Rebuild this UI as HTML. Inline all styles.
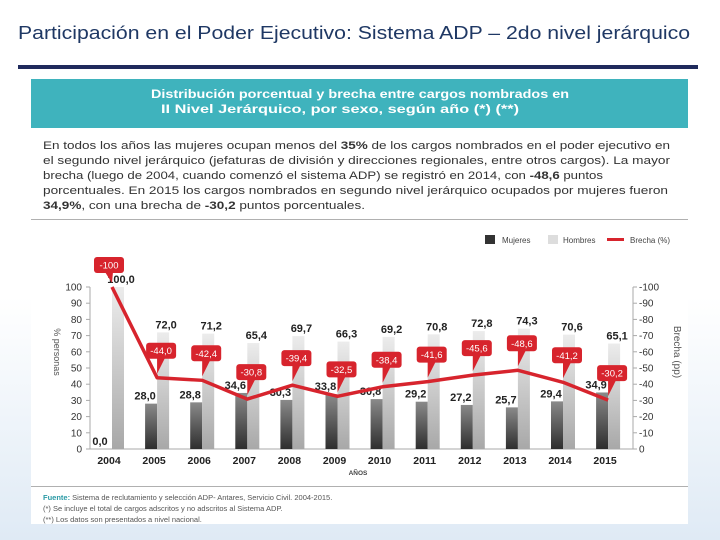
<!DOCTYPE html>
<html><head><meta charset="utf-8"><style>
html,body{margin:0;padding:0;width:720px;height:540px;overflow:hidden;font-family:"Liberation Sans",sans-serif;}
body{background:linear-gradient(180deg,#ffffff 0%,#ffffff 55%,#dfeaf5 100%);}
</style></head><body>
<svg id="svg" width="720" height="540" xmlns="http://www.w3.org/2000/svg" font-family="Liberation Sans, sans-serif">
<defs>
<linearGradient id="gw" x1="0" y1="0" x2="0" y2="1"><stop offset="0" stop-color="#8a8a8a"/><stop offset="1" stop-color="#2e2e2e"/></linearGradient>
<linearGradient id="gm" x1="0" y1="0" x2="0" y2="1"><stop offset="0" stop-color="#ececec"/><stop offset="1" stop-color="#a8a8a8"/></linearGradient>
</defs>
<text x="18" y="39" font-size="18" font-weight="500" fill="#1f3864" textLength="672" lengthAdjust="spacingAndGlyphs">Participación en el Poder Ejecutivo: Sistema ADP – 2do nivel jerárquico</text>
<rect x="18" y="65" width="680" height="4" fill="#1f2a5c"/>
<rect x="31" y="79" width="657" height="445" fill="#ffffff"/>
<rect x="31" y="79" width="657" height="49" fill="#3fb3bd"/>
<text x="360" y="98" font-size="11.5" font-weight="bold" fill="#fff" text-anchor="middle" textLength="418" lengthAdjust="spacingAndGlyphs">Distribución porcentual y brecha entre cargos nombrados en</text>
<text x="340" y="113" font-size="11.5" font-weight="bold" fill="#fff" text-anchor="middle" textLength="358" lengthAdjust="spacingAndGlyphs">II Nivel Jerárquico, por sexo, según año (*) (**)</text>
<g font-size="11" fill="#333">
<text x="43" y="149" textLength="627" lengthAdjust="spacingAndGlyphs">En todos los años las mujeres ocupan menos del <tspan font-weight="bold">35%</tspan> de los cargos nombrados en el poder ejecutivo en</text>
<text x="43" y="164" textLength="627" lengthAdjust="spacingAndGlyphs">el segundo nivel jerárquico (jefaturas de división y direcciones regionales, entre otros cargos). La mayor</text>
<text x="43" y="179" textLength="560" lengthAdjust="spacingAndGlyphs">brecha (luego de 2004, cuando comenzó el sistema ADP) se registró en 2014, con <tspan font-weight="bold">-48,6</tspan> puntos</text>
<text x="43" y="194" textLength="625" lengthAdjust="spacingAndGlyphs">porcentuales. En 2015 los cargos nombrados en segundo nivel jerárquico ocupados por mujeres fueron</text>
<text x="43" y="209" textLength="322" lengthAdjust="spacingAndGlyphs"><tspan font-weight="bold">34,9%</tspan>, con una brecha de <tspan font-weight="bold">-30,2</tspan> puntos porcentuales.</text>
</g>
<rect x="31" y="219" width="657" height="1" fill="#b0b0b0"/>
<g font-size="8" fill="#444">
<rect x="485" y="235" width="10" height="9" fill="#333"/><text x="502" y="243">Mujeres</text>
<rect x="548" y="235" width="10" height="9" fill="#ddd"/><text x="563" y="243">Hombres</text>
<rect x="607" y="238" width="17" height="3" fill="#d7242d"/><text x="630" y="243">Brecha (%)</text>
</g>
<g id="chart"></g>
<rect x="31" y="486" width="657" height="1" fill="#b0b0b0"/>
<g font-size="7.5" fill="#555">
<text x="43" y="500"><tspan fill="#2a9aa5" font-weight="bold">Fuente:</tspan> Sistema de reclutamiento y selección ADP- Antares, Servicio Civil. 2004-2015.</text>
<text x="43" y="511">(*) Se incluye el total de cargos adscritos y no adscritos al Sistema ADP.</text>
<text x="43" y="522">(**) Los datos son presentados a nivel nacional.</text>
</g>
</svg>
<script>
const years=["2004","2005","2006","2007","2008","2009","2010","2011","2012","2013","2014","2015"];
const mujeres=[0,28.0,28.8,34.6,30.3,33.8,30.8,29.2,27.2,25.7,29.4,34.9];
const hombres=[100,72.0,71.2,65.4,69.7,66.3,69.2,70.8,72.8,74.3,70.6,65.1];
const brecha=[-100,-44.0,-42.4,-30.8,-39.4,-32.5,-38.4,-41.6,-45.6,-48.6,-41.2,-30.2];
const leftTicks=[0,10,20,30,40,50,60,70,80,90,100];
const rightTicks=[0,-10,-20,-30,-40,-50,-60,-70,-80,-90,-100];
const NS="http://www.w3.org/2000/svg";
const g=document.getElementById('chart');
const xC=i=>109+45.1*i;
const y=v=>449-1.62*v;
const yB=v=>449+1.62*v;
const fmt=v=>v.toFixed(1).replace('.',',');
function mk(tag,attrs,parent){const e=document.createElementNS(NS,tag);for(const k in attrs)e.setAttribute(k,attrs[k]);(parent||g).appendChild(e);return e;}
let ax=mk('line',{x1:90,y1:y(0),x2:90,y2:y(100),stroke:'#aaa'});

let ax2=mk('line',{x1:633,y1:y(0),x2:633,y2:y(100),stroke:'#aaa'});

let xb=mk('line',{x1:90,y1:y(0),x2:633,y2:y(0),stroke:'#aaa'});

leftTicks.forEach(v=>{mk('line',{x1:86,x2:90,y1:y(v),y2:y(v),stroke:'#aaa'});
 const t=mk('text',{x:82,y:y(v)+3.5,'font-size':10,'text-anchor':'end',fill:'#333'});t.textContent=v;
 });
rightTicks.forEach(v=>{mk('line',{x1:633,x2:637,y1:yB(v),y2:yB(v),stroke:'#aaa'});
 const t=mk('text',{x:639,y:yB(v)+3.5,'font-size':10,fill:'#333'});t.textContent=v;
 });
let lt=mk('text',{x:0,y:0,'font-size':9,fill:'#555','text-anchor':'middle',transform:'translate(54,352) rotate(90)'});lt.textContent='% personas';

let rt=mk('text',{x:0,y:0,'font-size':10,fill:'#555','text-anchor':'middle',transform:'translate(674,352) rotate(90)'});rt.textContent='Brecha (pp)';

let at=mk('text',{x:358,y:475,'font-size':6.5,'font-weight':'bold',fill:'#444','text-anchor':'middle'});at.textContent='AÑOS';

years.forEach((yr,i)=>{const c=xC(i);
 const w=mk('rect',{x:c-9,y:y(mujeres[i]),width:12,height:y(0)-y(mujeres[i]),fill:'url(#gw)'});
 
 const m=mk('rect',{x:c+3,y:y(hombres[i]),width:12,height:y(0)-y(hombres[i]),fill:'url(#gm)'});
 
 const tl=mk('text',{x:c,y:464,'font-size':10.5,'font-weight':'bold','text-anchor':'middle',fill:'#222'});tl.textContent=yr;
 
 const vm=mk('text',{x:c+12,y:y(hombres[i])-4,'font-size':11,'font-weight':'bold','text-anchor':'middle',fill:'#222'});vm.textContent=fmt(hombres[i]);
 
 const vw=mk('text',{x:c-9,y:y(mujeres[i])-4,'font-size':11,'font-weight':'bold','text-anchor':'middle',fill:'#222'});vw.textContent=fmt(mujeres[i]);
 
});
const pts=brecha.map((v,i)=>(xC(i)+3)+','+yB(v)).join(' ');
const ln=mk('polyline',{points:pts,fill:'none',stroke:'#d7242d','stroke-width':3.5,'stroke-linejoin':'round'});

brecha.forEach((v,i)=>{const px=xC(i)+3,py=yB(v);const cx=px+(i==0?-3:4);const by=py-(i==0?22:27);
 const cg=mk('g',{});
 
 mk('rect',{x:cx-15,y:by-8,width:30,height:16,rx:3,fill:'#d7242d'},cg);
 mk('polygon',{points:(cx-4)+','+(by+7)+' '+(cx+4)+','+(by+7)+' '+px+','+(py-4),fill:'#d7242d'},cg);
 const t=mk('text',{x:cx,y:by+3.5,'font-size':9.5,fill:'#fff','text-anchor':'middle'},cg);t.textContent=i==0?String(v):fmt(v);
});
</script>
</body></html>
